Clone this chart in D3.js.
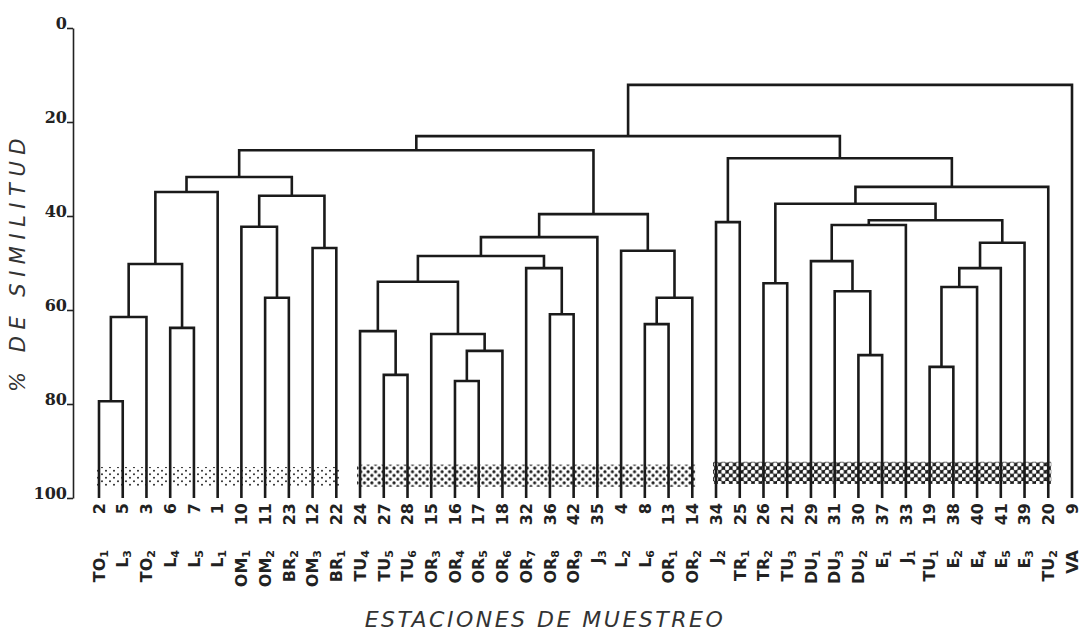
<!DOCTYPE html>
<html lang="es">
<head>
<meta charset="UTF-8">
<title>dendrograma</title>
<script src="https://cdn.jsdelivr.net/npm/d3@7"></script>
<style>
  body { margin: 0; background: #fff; }
</style>
</head>
<body>
<svg id="chart" width="1083" height="633" xmlns="http://www.w3.org/2000/svg"></svg>
<script>
// orden de las hojas (numero de estacion) y su etiqueta
const leaves = [2, 5, 3, 6, 7, 1, 10, 11, 23, 12, 22, 24, 27, 28, 15, 16, 17, 18, 32, 36, 42,
  35, 4, 8, 13, 14, 34, 25, 26, 21, 29, 31, 30, 37, 33, 19, 38, 40, 41, 39, 20, 9];
const stations = ["TO1", "L3", "TO2", "L4", "L5", "L1", "OM1", "OM2", "BR2", "OM3", "BR1", "TU4",
  "TU5", "TU6", "OR3", "OR4", "OR5", "OR6", "OR7", "OR8", "OR9", "J3", "L2", "L6", "OR1", "OR2",
  "J2", "TR1", "TR2", "TU3", "DU1", "DU3", "DU2", "E1", "J1", "TU1", "E2", "E4", "E5", "E3", "TU2", "VA"];

// uniones: [izquierda, derecha, % similitud]; "cN" = union N anterior
const merges = [
  [2, 5, 79.4], ["c0", 3, 61.5], [6, 7, 63.8], ["c1", "c2", 50.2], ["c3", 1, 34.9],
  [11, 23, 57.4], [10, "c5", 42.3], [12, 22, 46.8], ["c6", "c7", 35.7], ["c4", "c8", 31.7],
  [27, 28, 73.8], [24, "c10", 64.5], [16, 17, 75.1], ["c12", 18, 68.7], [15, "c13", 65.1],
  ["c11", "c14", 54.0], [36, 42, 60.9], [32, "c16", 51.1], ["c15", "c17", 48.5], ["c18", 35, 44.5],
  [8, 13, 63.0], ["c20", 14, 57.4], [4, "c21", 47.4], ["c19", "c22", 39.6], ["c9", "c23", 26.0],
  [34, 25, 41.3], [26, 21, 54.3], [30, 37, 69.6], [31, "c27", 56.0], [29, "c28", 49.6],
  ["c29", 33, 41.9], [19, 38, 72.1], ["c31", 40, 55.1], ["c32", 41, 51.1], ["c33", 39, 45.7],
  ["c30", "c34", 40.9], ["c26", "c35", 37.4], ["c36", 20, 33.8], ["c25", "c37", 27.7],
  ["c24", "c38", 23.0], ["c39", 9, 12.1]
];

// grupos sombreados (primera y ultima hoja)
const groups = [[2, 22], [24, 14], [34, 20]];

const yTicks = [0, 20, 40, 60, 80, 100];

const svg = d3.select("#chart");

const x = d3.scalePoint().domain(leaves).range([99, 1072]);
const y = d3.scaleLinear().domain([0, 100]).range([28, 498]);

// construir el arbol
const clusters = [];
const ref = r => typeof r === "string" ? clusters[+r.slice(1)] : { name: r };
merges.forEach(([a, b, s]) => clusters.push({ sim: s, children: [ref(a), ref(b)] }));
const root = d3.hierarchy(clusters[clusters.length - 1]);

root.eachAfter(n => {
  n.px = n.children ? d3.mean(n.children, c => c.px) : x(n.data.name);
  n.py = n.children ? y(n.data.sim) : y(100);
});

// patrones
const defs = svg.append("defs");
const p1 = defs.append("pattern").attr("id", "pat0").attr("patternUnits", "userSpaceOnUse")
  .attr("width", 8).attr("height", 7);
p1.append("circle").attr("cx", 2).attr("cy", 1.8).attr("r", 1.05).attr("fill", "#333");
p1.append("circle").attr("cx", 6).attr("cy", 5.3).attr("r", 1.05).attr("fill", "#333");

const p2 = defs.append("pattern").attr("id", "pat1").attr("patternUnits", "userSpaceOnUse")
  .attr("width", 7.4).attr("height", 7.4);
p2.append("circle").attr("cx", 1.85).attr("cy", 1.85).attr("r", 1.6).attr("fill", "#1e1e1e");
p2.append("circle").attr("cx", 5.55).attr("cy", 5.55).attr("r", 1.6).attr("fill", "#1e1e1e");

const p3 = defs.append("pattern").attr("id", "pat2").attr("patternUnits", "userSpaceOnUse")
  .attr("width", 7.4).attr("height", 7.4);
p3.append("rect").attr("width", 7.4).attr("height", 7.4).attr("fill", "#1a1a1a");
[[1.85, 1.85], [5.55, 5.55], [5.55, -1.85], [-1.85, 5.55], [9.25, 5.55], [5.55, 9.25]].forEach(([cx, cy]) =>
  p3.append("circle").attr("cx", cx).attr("cy", cy).attr("r", 2.15).attr("fill", "#fff"));

const bandY = [[93.4, 97.6], [92.9, 97.6], [92.3, 97.0]];
svg.append("g").selectAll("rect").data(groups).join("rect")
  .attr("x", d => x(d[0]) - 3)
  .attr("width", d => x(d[1]) - x(d[0]) + 6)
  .attr("y", (d, i) => y(bandY[i][0]))
  .attr("height", (d, i) => y(bandY[i][1]) - y(bandY[i][0]))
  .attr("fill", (d, i) => `url(#pat${i})`);

// ramas
svg.append("g")
  .attr("fill", "none")
  .attr("stroke", "#1a1a1a")
  .attr("stroke-width", 2.6)
  .attr("stroke-linejoin", "miter")
  .selectAll("path")
  .data(root.descendants().filter(n => n.children))
  .join("path")
  .attr("d", n => {
    const [a, b] = n.children;
    return `M${a.px},${a.py}V${n.py}H${b.px}V${b.py}`;
  });

// eje y
const yAxis = svg.append("g")
  .attr("transform", "translate(73,0)")
  .call(d3.axisLeft(y).tickValues(yTicks).tickSize(6).tickSizeOuter(0));
yAxis.select(".domain").attr("stroke", "#222").attr("stroke-width", 1.6);
yAxis.selectAll(".tick line").attr("stroke", "#222").attr("stroke-width", 1.6);
yAxis.selectAll(".tick text")
  .attr("x", -6).attr("dy", 0)
  .attr("fill", "#222")
  .style("font-family", "DejaVu Serif")
  .style("font-weight", "bold")
  .style("font-size", "16px");

// etiquetas de las hojas
const lab = svg.append("g").attr("fill", "#222")
  .style("font-family", "DejaVu Sans").style("font-weight", "bold");

lab.selectAll("text.num").data(leaves).join("text")
  .attr("class", "num")
  .attr("transform", d => `translate(${x(d)},503) rotate(-90)`)
  .attr("text-anchor", "end")
  .attr("dy", "0.36em")
  .style("font-size", "16px")
  .text(d => d);

lab.selectAll("text.st").data(stations).join("text")
  .attr("class", "st")
  .attr("transform", (d, i) => `translate(${x(leaves[i])},550) rotate(-90)`)
  .attr("text-anchor", "end")
  .attr("dy", "0.36em")
  .style("font-size", "16px")
  .each(function (d) {
    const m = d.match(/^([A-Z]+)(\d*)$/);
    const t = d3.select(this);
    t.append("tspan").text(m[1]);
    if (m[2]) t.append("tspan").attr("dy", 3).style("font-size", "11px").text(m[2]);
  });

// titulos
svg.append("text")
  .attr("transform", "translate(25,262) rotate(-90)")
  .attr("text-anchor", "middle")
  .attr("fill", "#333")
  .style("font-family", "DejaVu Sans")
  .style("font-style", "italic")
  .style("font-weight", "200")
  .style("font-size", "21px")
  .style("letter-spacing", "6.5px")
  .text("% DE SIMILITUD");

svg.append("text")
  .attr("x", 545).attr("y", 627)
  .attr("text-anchor", "middle")
  .attr("fill", "#333")
  .style("font-family", "DejaVu Sans")
  .style("font-style", "italic")
  .style("font-weight", "200")
  .style("font-size", "22px")
  .style("letter-spacing", "2.5px")
  .text("ESTACIONES DE MUESTREO");
</script>
</body>
</html>
